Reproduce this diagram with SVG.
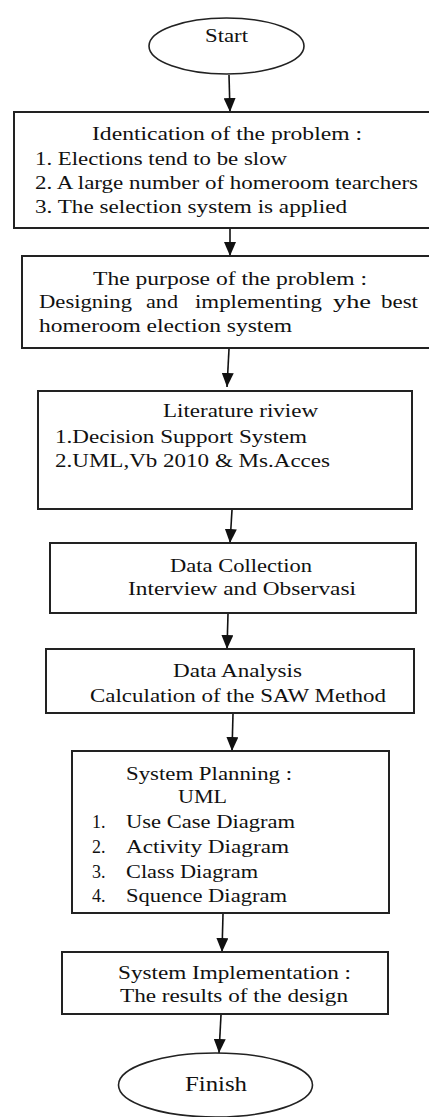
<svg xmlns="http://www.w3.org/2000/svg" width="429" height="1117" viewBox="0 0 429 1117">
  <style>
    .box { fill: #fff; stroke: #222; stroke-width: 2; }
    .term { fill: #fff; stroke: #222; stroke-width: 1.6; }
    .t { font-family: "Liberation Serif", "Times New Roman", serif; font-size: 18px; fill: #111; }
    .link { stroke: #111; stroke-width: 1.6; fill: none; marker-end: url(#head); }
  </style>
  <defs>
    <marker id="head" markerUnits="userSpaceOnUse" markerWidth="14" markerHeight="12" refX="14" refY="6" orient="auto">
      <path d="M0,0 L14,6 L0,12 z" fill="#111"/>
    </marker>
  </defs>
  <rect width="429" height="1117" fill="#fff"/>

  <g id="connectors">
    <line class="link" x1="229" y1="75" x2="230" y2="112"/>
    <line class="link" x1="230" y1="229" x2="230" y2="256"/>
    <line class="link" x1="229" y1="349" x2="227" y2="387"/>
    <line class="link" x1="232" y1="510" x2="230" y2="543"/>
    <line class="link" x1="228" y1="614" x2="227" y2="649"/>
    <line class="link" x1="233" y1="714" x2="232" y2="751"/>
    <line class="link" x1="223" y1="914" x2="222" y2="952"/>
    <line class="link" x1="221" y1="1015" x2="219" y2="1053"/>
  </g>

  <g id="start">
    <ellipse class="term" cx="226.5" cy="46" rx="77.5" ry="28"/>
    <text class="t" x="205" y="42" textLength="43" lengthAdjust="spacingAndGlyphs">Start</text>
  </g>

  <g id="identification">
    <rect class="box" x="14" y="112" width="420" height="116"/>
    <text class="t" x="92" y="140" textLength="270" lengthAdjust="spacingAndGlyphs">Identication of the problem :</text>
    <text class="t" x="35" y="165" textLength="252" lengthAdjust="spacingAndGlyphs">1. Elections tend to be slow</text>
    <text class="t" x="35" y="189" textLength="383" lengthAdjust="spacingAndGlyphs">2. A large number of homeroom tearchers</text>
    <text class="t" x="35" y="213" textLength="312" lengthAdjust="spacingAndGlyphs">3. The selection system is applied</text>
  </g>

  <g id="purpose">
    <rect class="box" x="22" y="256" width="412" height="92"/>
    <text class="t" x="93" y="285" textLength="274" lengthAdjust="spacingAndGlyphs">The purpose of the problem :</text>
    <text class="t" x="39" y="308" textLength="93" lengthAdjust="spacingAndGlyphs">Designing</text>
    <text class="t" x="146" y="308" textLength="32" lengthAdjust="spacingAndGlyphs">and</text>
    <text class="t" x="195" y="308" textLength="127" lengthAdjust="spacingAndGlyphs">implementing</text>
    <text class="t" x="333" y="308" textLength="38" lengthAdjust="spacingAndGlyphs">yhe</text>
    <text class="t" x="381" y="308" textLength="37" lengthAdjust="spacingAndGlyphs">best</text>
    <text class="t" x="39" y="332" textLength="253" lengthAdjust="spacingAndGlyphs">homeroom election system</text>
  </g>

  <g id="literature">
    <rect class="box" x="38" y="391" width="374" height="118"/>
    <text class="t" x="163" y="417" textLength="155" lengthAdjust="spacingAndGlyphs">Literature riview</text>
    <text class="t" x="55" y="443" textLength="252" lengthAdjust="spacingAndGlyphs">1.Decision Support System</text>
    <text class="t" x="55" y="467" textLength="275" lengthAdjust="spacingAndGlyphs">2.UML,Vb 2010 &amp; Ms.Acces</text>
  </g>

  <g id="collection">
    <rect class="box" x="50" y="543" width="366" height="70"/>
    <text class="t" x="170" y="572" textLength="142" lengthAdjust="spacingAndGlyphs">Data Collection</text>
    <text class="t" x="128" y="595" textLength="228" lengthAdjust="spacingAndGlyphs">Interview and Observasi</text>
  </g>

  <g id="analysis">
    <rect class="box" x="46" y="649" width="368" height="64"/>
    <text class="t" x="173" y="677" textLength="129" lengthAdjust="spacingAndGlyphs">Data Analysis</text>
    <text class="t" x="90" y="702" textLength="296" lengthAdjust="spacingAndGlyphs">Calculation of the SAW Method</text>
  </g>

  <g id="planning">
    <rect class="box" x="72" y="751" width="317" height="162"/>
    <text class="t" x="126" y="780" textLength="166" lengthAdjust="spacingAndGlyphs">System Planning :</text>
    <text class="t" x="178" y="803" textLength="49" lengthAdjust="spacingAndGlyphs">UML</text>
    <text class="t" x="92" y="828">1.</text>
    <text class="t" x="126" y="828" textLength="169" lengthAdjust="spacingAndGlyphs">Use Case Diagram</text>
    <text class="t" x="92" y="853">2.</text>
    <text class="t" x="126" y="853" textLength="163" lengthAdjust="spacingAndGlyphs">Activity  Diagram</text>
    <text class="t" x="92" y="878">3.</text>
    <text class="t" x="126" y="878" textLength="132" lengthAdjust="spacingAndGlyphs">Class Diagram</text>
    <text class="t" x="92" y="902">4.</text>
    <text class="t" x="126" y="902" textLength="161" lengthAdjust="spacingAndGlyphs">Squence Diagram</text>
  </g>

  <g id="implementation">
    <rect class="box" x="62" y="952" width="326" height="62"/>
    <text class="t" x="118" y="979" textLength="233" lengthAdjust="spacingAndGlyphs">System Implementation :</text>
    <text class="t" x="120" y="1002" textLength="228" lengthAdjust="spacingAndGlyphs">The results of the design</text>
  </g>

  <g id="finish">
    <ellipse class="term" cx="215.5" cy="1085" rx="97" ry="32"/>
    <text class="t" x="185" y="1091" style="font-size:21px" textLength="62" lengthAdjust="spacingAndGlyphs">Finish</text>
  </g>
</svg>
